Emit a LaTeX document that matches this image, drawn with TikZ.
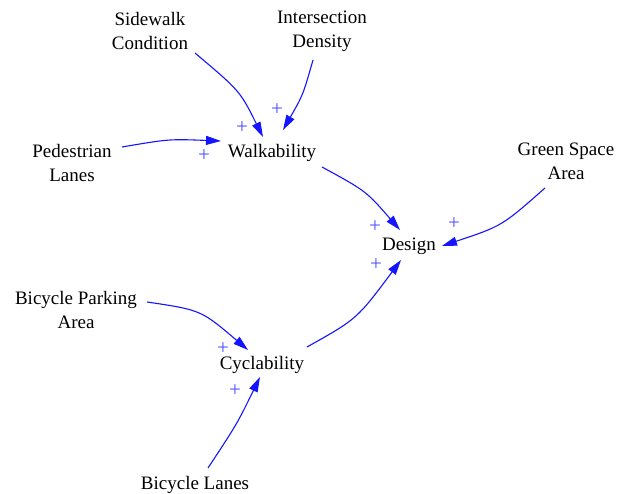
\documentclass[tikz,border=0pt]{standalone}
\usepackage{fontspec}
\setmainfont{Liberation Serif}
\usetikzlibrary{arrows.meta,calc}
\definecolor{linkblue}{RGB}{20,20,255}
\definecolor{polblue}{RGB}{80,80,255}
\begin{document}
\begin{tikzpicture}[x=1pt,y=-1pt,
  var/.style={inner sep=0pt,align=center,font=\fontsize{19}{24}\selectfont},
  link/.style={draw=linkblue,line width=1.1pt,-{Triangle[length=15pt,width=9pt]},fill=none},
  pol/.style={inner sep=0pt,text=polblue,font=\fontsize{21}{21}\selectfont}]
\useasboundingbox (0,0) rectangle (630,494);

% variables
\node[var] (sc)    at (150,31)  {Sidewalk\\Condition};
\node[var] (id)    at (322,31)  {Intersection\\Density};
\node[var] (ped)   at (72,163)  {Pedestrian\\Lanes};
\node[var] (walk)  at (272,153) {Walkability};
\node[var] (green) at (566,161) {Green Space\\Area};
\node[var] (des)   at (409,246) {Design};
\node[var] (bpa)   at (76,310)  {Bicycle Parking\\Area};
\node[var] (cyc)   at (262,365) {Cyclability};
\node[var] (bl)    at (195,485) {Bicycle Lanes};

% causal links
\draw[link] ($(sc)+(45,22)$)    .. controls (240,91)  .. ($(walk)+(-9,-16)$);
\draw[link] ($(id)+(-9,29)$)    .. controls (303,95)  .. ($(walk)+(11,-23)$);
\draw[link] ($(ped)+(50,-16)$)  .. controls (169,139) .. ($(walk)+(-51,-12)$);
\draw[link] ($(walk)+(50,14)$)  .. controls (366,191) .. ($(des)+(-9,-16)$);
\draw[link] ($(green)+(-21,27)$).. controls (502,226) .. ($(des)+(33,0)$);
\draw[link] ($(bpa)+(71,-8)$)   .. controls (201,310) .. ($(cyc)+(-14,-15)$);
\draw[link] ($(bl)+(13,-17)$)   .. controls (237,424) .. ($(cyc)+(-2,12)$);
\draw[link] ($(cyc)+(45,-18)$)  .. controls (357,319) .. ($(des)+(-8,14)$);

% link polarities
\node[pol] (p1) at (277,110) {+};
\node[pol] (p2) at (242,128) {+};
\node[pol] (p3) at (204,156) {+};
\node[pol] (p4) at (375,227) {+};
\node[pol] (p5) at (454,224) {+};
\node[pol] (p6) at (376,265) {+};
\node[pol] (p7) at (223,349) {+};
\node[pol] (p8) at (235,391) {+};
\end{tikzpicture}
\end{document}
